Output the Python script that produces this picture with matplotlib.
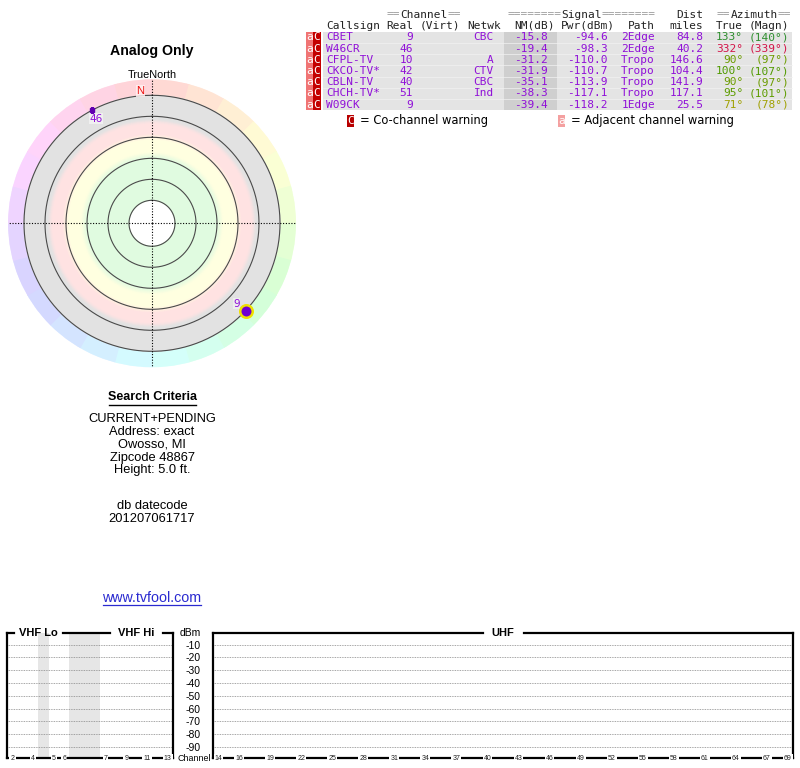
import colorsys
import numpy as np
import matplotlib
matplotlib.use('Agg')
import matplotlib.pyplot as plt
from matplotlib.patches import Rectangle
from matplotlib.colors import LinearSegmentedColormap

# station table
callsigns = ['CBET', 'W46CR', 'CFPL-TV', 'CKCO-TV*', 'CBLN-TV', 'CHCH-TV*', 'W09CK']
real_ch = [9, 46, 10, 42, 40, 51, 9]
networks = ['CBC', '', 'A', 'CTV', 'CBC', 'Ind', '']
nm_db = [-15.8, -19.4, -31.2, -31.9, -35.1, -38.3, -39.4]
pwr_dbm = [-94.6, -98.3, -110.0, -110.7, -113.9, -117.1, -118.2]
paths = ['2Edge', '2Edge', 'Tropo', 'Tropo', 'Tropo', 'Tropo', '1Edge']
dist_mi = [84.8, 40.2, 146.6, 104.4, 141.9, 117.1, 25.5]
az_true = [133, 332, 90, 100, 90, 95, 71]
az_magn = [140, 339, 97, 107, 97, 101, 78]
az_colors = ['#2e8e2e', '#d41448', '#6c9c00', '#509a00', '#6c9c00', '#5e9c00', '#a0a000']

# radar rings (noise margin dB) and band colours (nm from, nm to, colour)
ring_nm = [-10, 0, 10, 20, 30, 40]
bands = [(-10, 1, '#e2e2e2'), (3, 8, '#ffe2e2'), (11, 17, '#ffffe0'), (20, 40, '#e0fbe0')]
plot_min_nm = -20

# spectrum axes
vhf_ticks = [2, 4, 5, 6, 7, 9, 11, 13]
uhf_ticks = [14, 16, 19, 22, 25, 28, 31, 34, 37, 40, 43, 46, 49, 52, 55, 58, 61, 64, 67, 69]
dbm_levels = [-10, -20, -30, -40, -50, -60, -70, -80, -90]

search_lines = ['CURRENT+PENDING', 'Address: exact', 'Owosso, MI', 'Zipcode 48867', 'Height: 5.0 ft.']
datecode = '201207061717'

PURPLE = '#9010d8'
SANS = ['Liberation Sans', 'DejaVu Sans']
MONO = 'DejaVu Sans Mono'

W, H = 800, 768
fig = plt.figure(figsize=(8, 7.68), dpi=100)


def px_axes(x0, y0, x1, y1, **kw):
    return fig.add_axes([x0 / W, 1 - y1 / H, (x1 - x0) / W, (y1 - y0) / H], **kw)


def nm_to_r(nm):
    return np.clip(107 - 2.1 * np.asarray(nm, dtype=float), 0, 128)


# ---- radar plot ----
cx, cy, R = 152, 223.3, 144
pax = px_axes(cx - R, cy - R, cx + R, cy + R, projection='polar')
pax.set_theta_zero_location('N')
pax.set_theta_direction(-1)
pax.set_ylim(0, R)
pax.axis('off')

# outer compass ring, stepped hue by azimuth
nseg = 24
seg = np.arange(nseg) * 360 / nseg
ring_cols = [colorsys.hsv_to_rgb(((a + 7.5) % 360) / 360, 0.17, 1.0) for a in seg]
pax.bar(np.radians(seg), R - 128, width=2 * np.pi / nseg, bottom=128,
        color=ring_cols, edgecolor=ring_cols, lw=0.6, align='edge')

# margin bands with a soft radial blend
r_in = float(nm_to_r(max(ring_nm)))
stops = []
for lo, hi, col in bands:
    stops += [(float(nm_to_r(hi)), col), (float(nm_to_r(lo)), col)]
stops.sort()
band_cmap = LinearSegmentedColormap.from_list(
    'bands', [((r - r_in) / (128 - r_in), c) for r, c in stops])
tg = np.linspace(0, 2 * np.pi, 181)
rg = np.linspace(r_in, 128, 106)
T, Rr = np.meshgrid(tg, rg)
pax.pcolormesh(T, Rr, Rr, cmap=band_cmap, vmin=r_in, vmax=128, shading='gouraud',
               antialiased=False, rasterized=True)

th = np.linspace(0, 2 * np.pi, 400)
for lvl in ring_nm:
    pax.plot(th, np.full_like(th, nm_to_r(lvl)), color='#4a4a4a', lw=0.8)
for t in [0, np.pi / 2, np.pi, 3 * np.pi / 2]:
    pax.plot([t, t], [0, R], color='black', lw=0.8, ls=(0, (1, 1.5)))

for i, nm in enumerate(nm_db):
    if nm < plot_min_nm:
        continue
    t, r = np.radians(az_true[i]), nm_to_r(nm)
    if i == 0:
        pax.plot(t, r, 'o', ms=9, mfc='#7000d0', mec='#f0e000', mew=1.8, zorder=5)
        pax.annotate(str(real_ch[i]), (t, r), xytext=(-6.5, 5), textcoords='offset points',
                     ha='center', va='center', fontsize=7.5, color=PURPLE,
                     bbox=dict(boxstyle='square,pad=0.05', fc='#f0f0f0', ec='none', alpha=0.8))
    else:
        pax.plot(t, r, 's', ms=3.2, mfc='#6000b0', mec='#6000b0', zorder=5)
        pax.annotate(str(real_ch[i]), (t, r), xytext=(3, -6), textcoords='offset points',
                     ha='center', va='center', fontsize=7.5, color=PURPLE,
                     bbox=dict(boxstyle='square,pad=0.05', fc='#f4f4f4', ec='none', alpha=0.8))

# ---- spectrum boxes ----
def slot_vhf(ch):
    return {2: 0, 3: 1, 4: 2, 5: 4, 6: 5}.get(ch, ch + 2) + 0.5


def spectrum_box(ax, nslots, tick_ch, slot_fn, top_segs, labels):
    ax.set_xlim(0, nslots)
    ax.set_ylim(-98.8, -1.1)
    for lvl in dbm_levels:
        ax.axhline(lvl, color='#888888', lw=0.6, ls=(0, (1, 1)))
    ax.set_xticks([])
    ax.set_yticks([])
    for s in ['left', 'right', 'bottom']:
        ax.spines[s].set_linewidth(1.6)
    ax.spines['top'].set_visible(False)
    for a, b in top_segs:
        ax.plot([a, b], [1, 1], color='black', lw=1.6, transform=ax.get_xaxis_transform(),
                clip_on=False, solid_capstyle='projecting')
    for x, txt in labels:
        ax.text(x, 1, txt, transform=ax.get_xaxis_transform(), ha='center', va='center',
                fontsize=8, fontweight='bold', family=SANS)
    for ch in tick_ch:
        ax.text(slot_fn(ch), 0, str(ch), transform=ax.get_xaxis_transform(), ha='center',
                va='center', fontsize=5, family=SANS, color='#222222',
                bbox=dict(boxstyle='square,pad=0.15', fc='white', ec='none'))


vax = px_axes(7.3, 633.3, 172.7, 758.3)
vax.axvspan(3, 4, color='#e6e6e6', lw=0)
vax.axvspan(6, 9, color='#e6e6e6', lw=0)
spectrum_box(vax, 16, vhf_ticks, slot_vhf, [(0, 0.6), (5.4, 9.9), (15.1, 16)],
             [(3.0, 'VHF Lo'), (12.5, 'VHF Hi')])
vax.yaxis.tick_right()
vax.set_yticks(dbm_levels)
vax.set_yticklabels([str(v) for v in dbm_levels], family=SANS, fontsize=7.5)
vax.tick_params(axis='y', length=0, pad=9)

uax = px_axes(213.3, 633.3, 792.7, 758.3)
spectrum_box(uax, 56, uhf_ticks, lambda ch: ch - 14 + 0.5, [(0, 26.1), (30.0, 56)],
             [(28, 'UHF')])

# ---- overlay for text ----
ax = fig.add_axes([0, 0, 1, 1], zorder=10)
ax.set_xlim(0, W)
ax.set_ylim(H, 0)
ax.axis('off')
ax.patch.set_alpha(0)

ax.text(152, 51, 'Analog Only', ha='center', va='center', fontsize=10.2, fontweight='bold', family=SANS)
ax.text(152, 75, 'TrueNorth', ha='center', va='center', fontsize=7.8, family=SANS)
ax.text(140.5, 91, 'N', ha='center', va='center', fontsize=8, color='#ee1111', family=SANS,
        bbox=dict(boxstyle='square,pad=0.05', fc='#fff2f2', ec='none', alpha=0.8))

ax.text(152, 397.5, 'Search Criteria', ha='center', va='center', fontsize=9, fontweight='bold', family=SANS)
ax.plot([108.5, 195.5], [404.5, 404.5], color='black', lw=1)
for i, line in enumerate(search_lines):
    ax.text(152, 419.5 + i * 12.7, line, ha='center', va='center', fontsize=9.3, family=SANS)
ax.text(152, 506, 'db datecode', ha='center', va='center', fontsize=9.3, family=SANS)
ax.text(152, 519, datecode, ha='center', va='center', fontsize=9.3, family=SANS)
ax.text(152, 598, 'www.tvfool.com', ha='center', va='center', fontsize=10.3, family=SANS, color='#2a2ad0')
ax.plot([103, 201], [605, 605], color='#2a2ad0', lw=0.9)

ax.text(190, 633.5, 'dBm', ha='center', va='center', fontsize=7.5, family=SANS)
ax.text(194, 758.5, 'Channel', ha='center', va='center', fontsize=6.4, family=SANS)

# ---- station table ----
cw = 0.602 * 8 * 100 / 72
y0, dy = 37.4, 11.2
n = len(callsigns)
ax.add_patch(Rectangle((323, y0 - dy / 2), 469, dy * n, color='#e4e4e4', lw=0))
ax.add_patch(Rectangle((504, y0 - dy / 2), 53, dy * n, color='#cfcfcf', lw=0))
for i in range(1, n):
    ax.plot([323, 792], [y0 - dy / 2 + i * dy] * 2, color='#f2f2f2', lw=0.5)

mono = dict(family=MONO, fontsize=8, va='center')
for i in range(n):
    y = y0 + i * dy
    ax.add_patch(Rectangle((306, y - dy / 2), 7, dy, color='#f07474', lw=0))
    ax.add_patch(Rectangle((313, y - dy / 2), 7.5, dy, color='#c40000', lw=0))
    ax.text(309.5, y, 'a', color='white', ha='center', **mono)
    ax.text(316.8, y, 'C', color='white', ha='center', **mono)
    ax.text(326, y, callsigns[i], color=PURPLE, ha='left', **mono)
    ax.text(413, y, str(real_ch[i]), color=PURPLE, ha='right', **mono)
    ax.text(494, y, networks[i], color=PURPLE, ha='right', **mono)
    ax.text(548, y, f'{nm_db[i]:.1f}', color=PURPLE, ha='right', **mono)
    ax.text(608, y, f'{pwr_dbm[i]:.1f}', color=PURPLE, ha='right', **mono)
    ax.text(655, y, paths[i], color=PURPLE, ha='right', **mono)
    ax.text(703, y, f'{dist_mi[i]:.1f}', color=PURPLE, ha='right', **mono)
    ax.text(743, y, f'{az_true[i]}°', color=az_colors[i], ha='right', **mono)
    ax.text(789, y, f'({az_magn[i]}°)', color=az_colors[i], ha='right', **mono)

hdr = '#222222'
eq = '#9a9a9a'


def banner(x, y, word, neq_l, neq_r):
    ax.text(x, y, '=' * neq_l, color=eq, ha='left', **mono)
    ax.text(x + neq_l * cw, y, word, color=hdr, ha='left', **mono)
    ax.text(x + (neq_l + len(word)) * cw, y, '=' * neq_r, color=eq, ha='left', **mono)


hy1, hy2 = 14.5, 25.7
banner(387, hy1, 'Channel', 2, 2)
banner(508, hy1, 'Signal', 8, 8)
ax.text(703, hy1, 'Dist', color=hdr, ha='right', **mono)
banner(717, hy1, 'Azimuth', 2, 2)
ax.text(326, hy2, 'Callsign', color=hdr, ha='left', **mono)
ax.text(413, hy2, 'Real', color=hdr, ha='right', **mono)
ax.text(460, hy2, '(Virt)', color=hdr, ha='right', **mono)
ax.text(501, hy2, 'Netwk', color=hdr, ha='right', **mono)
ax.text(555, hy2, 'NM(dB)', color=hdr, ha='right', **mono)
ax.text(615, hy2, 'Pwr(dBm)', color=hdr, ha='right', **mono)
ax.text(655, hy2, 'Path', color=hdr, ha='right', **mono)
ax.text(703, hy2, 'miles', color=hdr, ha='right', **mono)
ax.text(743, hy2, 'True', color=hdr, ha='right', **mono)
ax.text(789, hy2, '(Magn)', color=hdr, ha='right', **mono)

# legend
ly = 120.7
ax.add_patch(Rectangle((346.7, ly - 6), 7, 12, color='#b80000', lw=0))
ax.text(350.2, ly, 'C', color='white', ha='center', **mono)
ax.text(360, ly, '= Co-channel warning', ha='left', va='center', fontsize=8.3, family='DejaVu Sans')
ax.add_patch(Rectangle((557.7, ly - 6), 7.5, 12, color='#f4a0a0', lw=0))
ax.text(561.4, ly, 'a', color='white', ha='center', **mono)
ax.text(571, ly, '= Adjacent channel warning', ha='left', va='center', fontsize=8.3, family='DejaVu Sans')

fig.savefig('out.png', dpi=100)
